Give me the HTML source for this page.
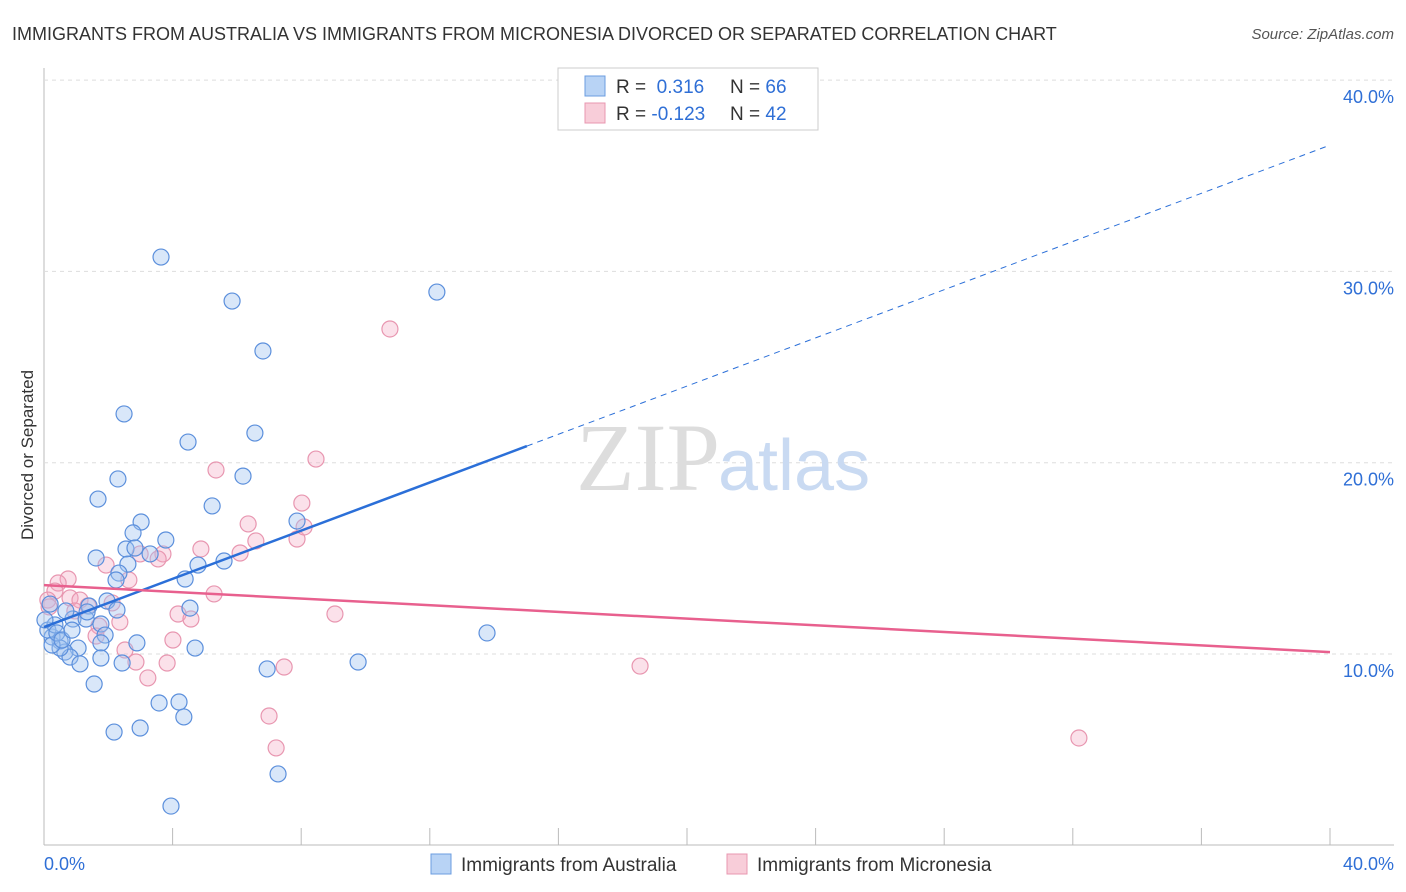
<!DOCTYPE html>
<html><head><meta charset="utf-8"><style>
body{margin:0;background:#fff;font-family:"Liberation Sans",sans-serif;}
svg{display:block}
</style></head><body>
<svg id="chart" width="1406" height="892">
<text x="12" y="40" font-size="18" fill="#333">IMMIGRANTS FROM AUSTRALIA VS IMMIGRANTS FROM MICRONESIA DIVORCED OR SEPARATED CORRELATION CHART</text>
<text x="1394" y="39" font-size="15" fill="#555" font-style="italic" text-anchor="end">Source: ZipAtlas.com</text>
<text x="33" y="455" font-size="17" fill="#333" text-anchor="middle" transform="rotate(-90 33 455)">Divorced or Separated</text>
<g id="grid"></g>
<text x="720" y="490" font-size="96" fill="#ddd" text-anchor="end" font-family="Liberation Serif">ZIP</text>
<text x="718" y="490" font-size="72" fill="#c9daf2">atlas</text>
<g id="points"></g>
<g id="lines"></g>
<g>
<rect x="558" y="68" width="260" height="62" fill="#fff" stroke="#ccc"/>
<rect x="585" y="76" width="20" height="20" fill="#b8d3f5" stroke="#6b9de0"/>
<rect x="585" y="103" width="20" height="20" fill="#f8cdd9" stroke="#e897b0"/>
<text x="616" y="93" font-size="19" fill="#333">R = <tspan fill="#2f6fd6">&#160;0.316</tspan><tspan x="730">N = </tspan><tspan fill="#2f6fd6">66</tspan></text>
<text x="616" y="120" font-size="19" fill="#333">R = <tspan fill="#2f6fd6">-0.123</tspan><tspan x="730">N = </tspan><tspan fill="#2f6fd6">42</tspan></text>
</g>
<g>
<rect x="431" y="854" width="20" height="20" fill="#b8d3f5" stroke="#6b9de0"/>
<text x="461" y="871" font-size="19" fill="#333">Immigrants from Australia</text>
<rect x="727" y="854" width="20" height="20" fill="#f8cdd9" stroke="#e897b0"/>
<text x="757" y="871" font-size="19" fill="#333">Immigrants from Micronesia</text>
</g>
<text x="44" y="870" font-size="18" fill="#2f6fd6">0.0%</text>
<text x="1394" y="870" font-size="18" fill="#2f6fd6" text-anchor="end">40.0%</text>
</svg>
<script>
const yTicks=[10,20,30,40];
const yTickLabels=["10.0%","20.0%","30.0%","40.0%"];
const xTicks=[0,4,8,12,16,20,24,28,32,36,40];
const bluePx=[[161,257],[232,301],[263,351],[437,292],[124,414],[188,442],[255,433],[118,479],[98,499],[212,506],[243,476],[141,522],[133,533],[166,540],[96,558],[126,549],[135,548],[150,554],[297,521],[224,561],[198,565],[128,564],[119,573],[116,580],[185,579],[107,601],[190,608],[89,606],[73,619],[86,619],[101,624],[117,610],[105,635],[137,643],[195,648],[101,643],[78,648],[60,641],[52,637],[48,630],[65,652],[70,657],[80,664],[60,648],[101,658],[122,663],[55,625],[52,645],[57,633],[94,684],[267,669],[358,662],[487,633],[159,703],[179,702],[184,717],[114,732],[140,728],[278,774],[171,806],[66,611],[50,604],[62,640],[45,620],[72,630],[87,612]];
const pinkPx=[[390,329],[316,459],[216,470],[302,503],[248,524],[256,541],[297,539],[304,527],[240,553],[201,549],[163,554],[158,559],[140,554],[106,565],[129,580],[68,579],[58,583],[55,591],[48,600],[49,607],[70,598],[80,600],[88,606],[112,603],[120,622],[99,626],[96,636],[75,611],[214,594],[178,614],[191,619],[335,614],[173,640],[125,650],[136,662],[167,663],[148,678],[284,667],[269,716],[276,748],[640,666],[1079,738]];
// data values (percent) derived from reading the picture
const blueX=bluePx.map(p=>+((p[0]-44)/32.15).toFixed(2));
const blueY=bluePx.map(p=>+(10+(654-p[1])/19.13).toFixed(2));
const pinkX=pinkPx.map(p=>+((p[0]-44)/32.15).toFixed(2));
const pinkY=pinkPx.map(p=>+(10+(654-p[1])/19.13).toFixed(2));
const blueTrend=[11.41,36.6];
const pinkTrend=[13.6,10.1];
const blueSolidEnd=15.02;

const X=v=>44+v*32.15, Y=v=>654-(v-10)*19.13;
const NS="http://www.w3.org/2000/svg";
function mk(t,a,parent){const e=document.createElementNS(NS,t);for(const k in a)e.setAttribute(k,a[k]);parent.appendChild(e);return e;}
const grid=document.getElementById('grid');
let ax=mk('line',{x1:44,y1:68,x2:44,y2:845,stroke:'#bbb'},grid);


let bx=mk('line',{x1:44,y1:845,x2:1394,y2:845,stroke:'#bbb'},grid);


yTicks.forEach((t,i)=>{
 let g=mk('line',{x1:44,y1:Y(t),x2:1394,y2:Y(t),stroke:'#ddd','stroke-dasharray':'4 4'},grid);
 
 
 let l=mk('text',{x:1394,y:Y(t)+23,'font-size':18,fill:'#2f6fd6','text-anchor':'end'},grid);
 l.textContent=yTickLabels[i];
 
 
});
xTicks.forEach(t=>{
 let k=mk('line',{x1:X(t),y1:828,x2:X(t),y2:845,stroke:'#bbb'},grid);
 
 
});
const pts=document.getElementById('points');
pinkX.forEach((x,i)=>{
 let c=mk('circle',{cx:X(x),cy:Y(pinkY[i]),r:8,fill:'rgba(244,170,195,0.35)',stroke:'#e896b0','stroke-width':1.2},pts);
 
 
});
blueX.forEach((x,i)=>{
 let c=mk('circle',{cx:X(x),cy:Y(blueY[i]),r:8,fill:'rgba(160,195,240,0.4)',stroke:'#5b8fdc','stroke-width':1.2},pts);
 
 
});
const ln=document.getElementById('lines');
const by=x=>blueTrend[0]+(blueTrend[1]-blueTrend[0])*x/40;
let b1=mk('line',{x1:X(0),y1:Y(by(0)),x2:X(blueSolidEnd),y2:Y(by(blueSolidEnd)),stroke:'#2b6fd8','stroke-width':2.5},ln);


let b2=mk('line',{x1:X(blueSolidEnd),y1:Y(by(blueSolidEnd)),x2:X(40),y2:Y(by(40)),stroke:'#2b6fd8','stroke-width':1,'stroke-dasharray':'6 5'},ln);


let p1=mk('line',{x1:X(0),y1:Y(pinkTrend[0]),x2:X(40),y2:Y(pinkTrend[1]),stroke:'#e8608e','stroke-width':2.5},ln);


</script>
</body></html>
